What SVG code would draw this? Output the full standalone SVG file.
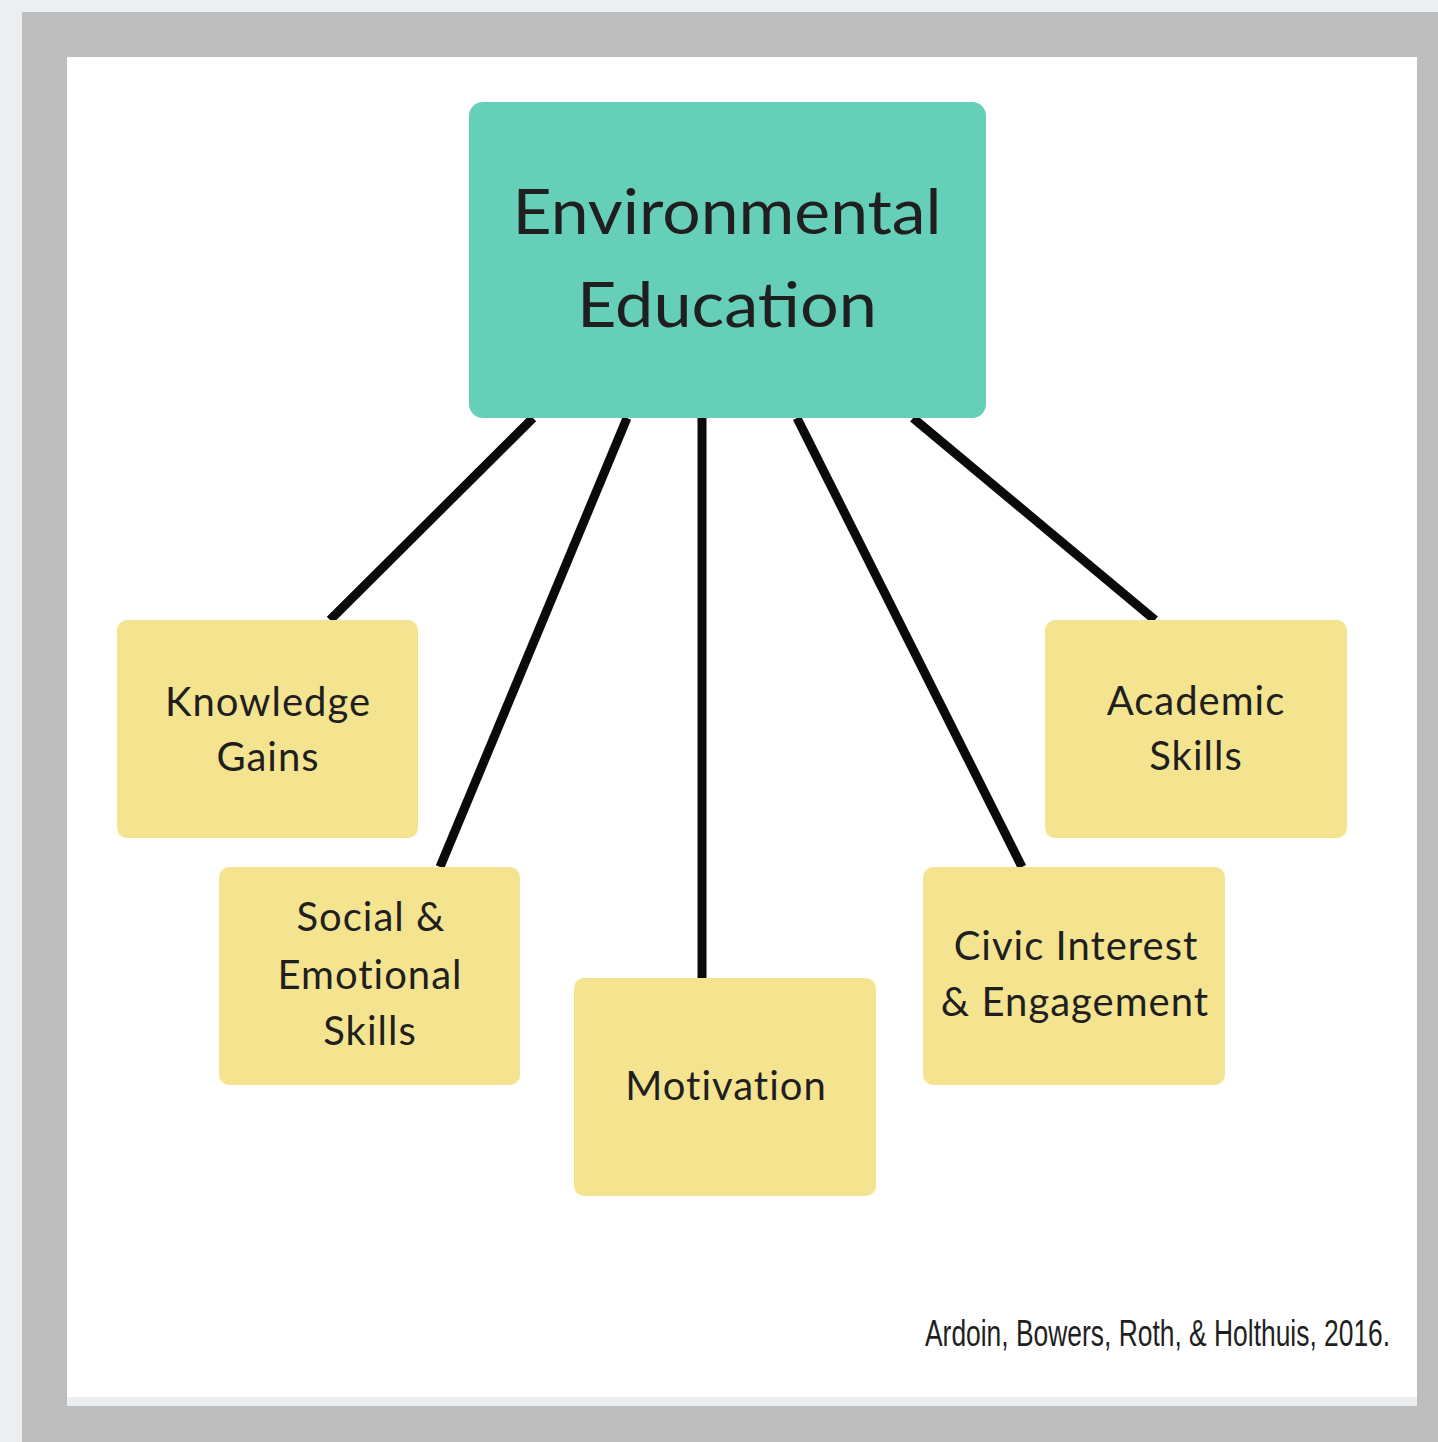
<svg xmlns="http://www.w3.org/2000/svg" width="1438" height="1442" viewBox="0 0 1438 1442">
  <style>
    .node-main { fill: #66cfb8; }
    .node { fill: #f5e48f; }
    .lbl { font-family: Lato, "Open Sans", "Liberation Sans", sans-serif; fill: #1f1f1f; text-anchor: middle; }
    .main { font-size: 62px; }
    .sub { font-size: 40px; letter-spacing: 1px; }
    .conn { stroke: #0a0a0a; stroke-width: 9; fill: none; }
    .cite { font-family: "Liberation Sans", sans-serif; font-size: 37px; fill: #1f1f1f; }
  </style>
  <rect x="0" y="0" width="1438" height="1442" fill="#ebeff2"/>
  <rect x="22" y="12" width="1416" height="1430" fill="#bebebe"/>
  <rect x="67" y="57" width="1350" height="1340" fill="#ffffff"/>
  <rect x="67" y="1397" width="1350" height="9" fill="#ebeff2"/>

  <g id="connectors">
    <line class="conn" x1="533" y1="418" x2="330" y2="620"/>
    <line class="conn" x1="627" y1="418" x2="440" y2="867"/>
    <line class="conn" x1="702" y1="418" x2="702" y2="978"/>
    <line class="conn" x1="797" y1="418" x2="1022" y2="867"/>
    <line class="conn" x1="913" y1="418" x2="1155" y2="620"/>
  </g>

  <g id="environmental-education">
    <rect class="node-main" x="469" y="102" width="517" height="316" rx="14"/>
    <text class="lbl main" x="727" y="234" textLength="429" lengthAdjust="spacingAndGlyphs">Environmental</text>
    <text class="lbl main" x="727" y="327" textLength="300" lengthAdjust="spacingAndGlyphs">Education</text>
  </g>

  <g id="knowledge-gains">
    <rect class="node" x="117" y="620" width="301" height="218" rx="10"/>
    <text class="lbl sub" x="268" y="716">Knowledge</text>
    <text class="lbl sub" x="268" y="771">Gains</text>
  </g>

  <g id="social-emotional-skills">
    <rect class="node" x="219" y="867" width="301" height="218" rx="10"/>
    <text class="lbl sub" x="371" y="931">Social &amp;</text>
    <text class="lbl sub" x="370" y="989">Emotional</text>
    <text class="lbl sub" x="370" y="1045">Skills</text>
  </g>

  <g id="motivation">
    <rect class="node" x="574" y="978" width="302" height="218" rx="10"/>
    <text class="lbl sub" x="726" y="1100">Motivation</text>
  </g>

  <g id="civic-interest-engagement">
    <rect class="node" x="923" y="867" width="302" height="218" rx="10"/>
    <text class="lbl sub" x="1076" y="960">Civic Interest</text>
    <text class="lbl sub" x="1075" y="1016">&amp; Engagement</text>
  </g>

  <g id="academic-skills">
    <rect class="node" x="1045" y="620" width="302" height="218" rx="10"/>
    <text class="lbl sub" x="1196" y="715">Academic</text>
    <text class="lbl sub" x="1196" y="770">Skills</text>
  </g>

  <g transform="translate(925,1346) scale(0.68,1)">
    <text class="cite" x="0" y="0" textLength="684" lengthAdjust="spacingAndGlyphs">Ardoin, Bowers, Roth, &amp; Holthuis, 2016.</text>
  </g>
</svg>
